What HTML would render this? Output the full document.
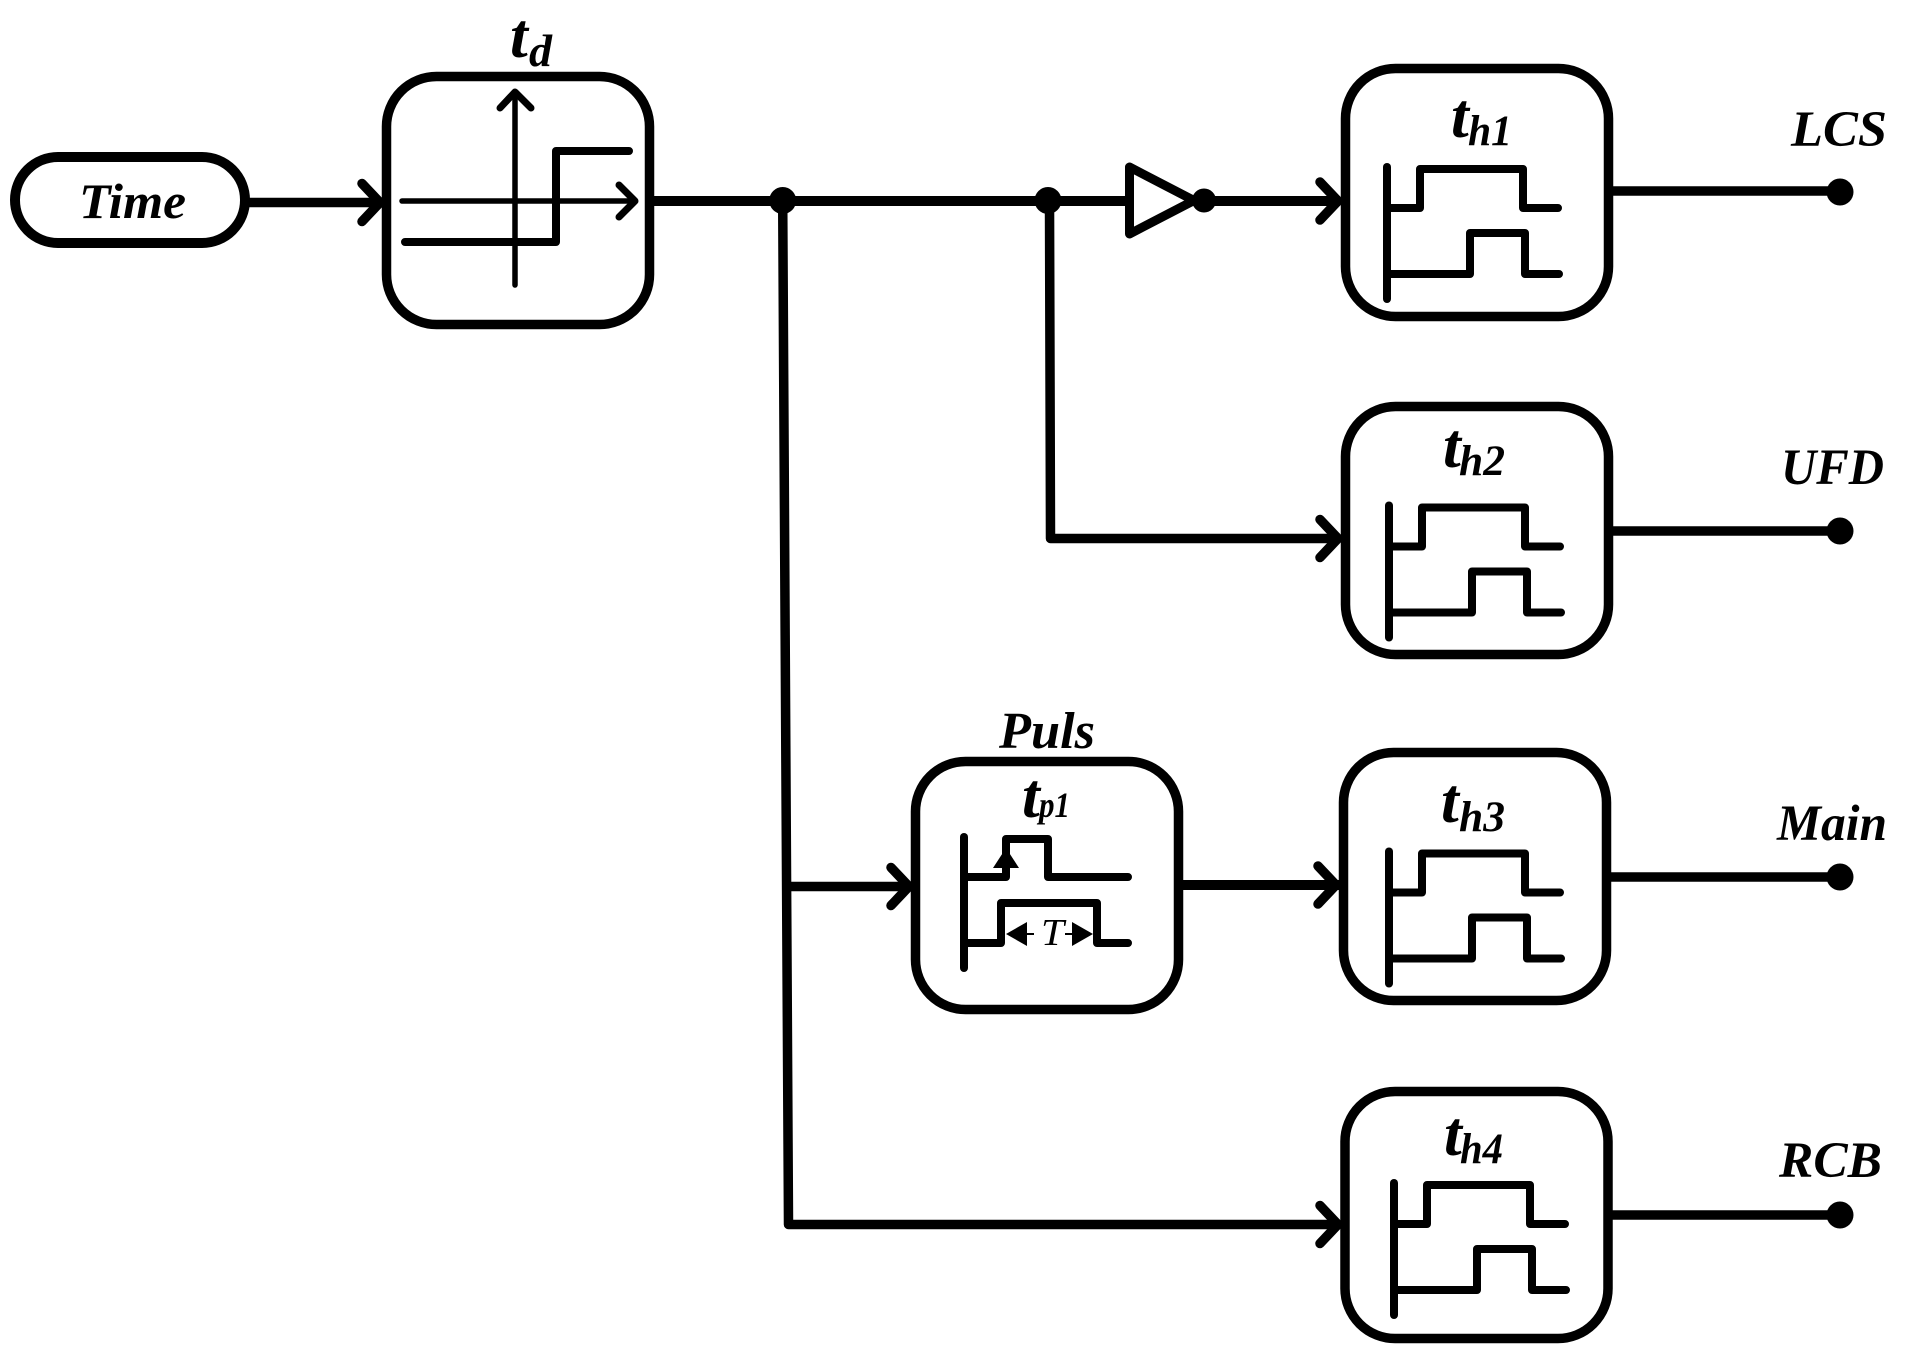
<!DOCTYPE html>
<html><head><meta charset="utf-8"><style>
html,body{margin:0;padding:0;background:#fff}
svg{display:block}
text{font-family:"Liberation Serif",serif;font-style:italic;font-weight:bold;fill:#000}
.l{fill:none;stroke:#000;stroke-width:9.5;stroke-linejoin:round;stroke-linecap:round}
.w{fill:none;stroke:#000;stroke-width:9.5;stroke-linejoin:round;stroke-linecap:butt}
.p{fill:none;stroke:#000;stroke-width:8;stroke-linejoin:round;stroke-linecap:round}
.b{fill:#fff;stroke:#000;stroke-width:9.5}
</style></head><body>
<svg width="1906" height="1355" viewBox="0 0 1906 1355" xmlns="http://www.w3.org/2000/svg">
<defs>
<g id="pulse">
<path class="p" d="M1387 167V299"/>
<path class="p" d="M1387 208H1420V169H1523V208H1558"/>
<path class="p" d="M1387 274H1470V233H1525V274H1559"/>
</g>
</defs>
<rect width="1906" height="1355" fill="#fff"/>

<!-- wires -->
<path class="w" d="M248 202.5H383"/>
<path class="l" d="M362 183.5L380 202.5L362 221.5"/>
<path class="w" style="stroke-width:10" d="M650 201H1130"/>
<path class="w" style="stroke-width:10" d="M1204 201H1340"/>
<path class="l" d="M1320 182L1338 201L1320 220"/>
<path class="w" d="M782.7 201L788.5 1224.5H1340"/>
<path class="l" d="M1320 1205.5L1338 1224.5L1320 1243.5"/>
<path class="w" d="M1049.5 201L1050.5 538.5H1340"/>
<path class="l" d="M1320 519.5L1338 538.5L1320 557.5"/>
<path class="w" d="M786 886.5H912"/>
<path class="l" d="M891 867.5L909 886.5L891 905.5"/>
<path class="w" style="stroke-width:10" d="M1180 885H1339"/>
<path class="l" d="M1318 866L1336 885L1318 904"/>
<circle cx="782.7" cy="200.5" r="13.5"/>
<circle cx="1048" cy="200.5" r="13.5"/>
<path class="l" fill="#fff" style="fill:#fff;stroke-width:9" d="M1129.5 167V234L1194 200.5Z"/>
<circle cx="1204" cy="200.5" r="12"/>

<!-- outputs -->
<path class="w" d="M1608 191H1840M1608 531H1840M1608 877H1840M1608 1215H1840"/>
<circle cx="1840" cy="192" r="13.5"/>
<circle cx="1840" cy="531" r="13.5"/>
<circle cx="1840" cy="877" r="13.5"/>
<circle cx="1840" cy="1215" r="13.5"/>

<!-- Time -->
<rect style="fill:#fff;stroke:#000;stroke-width:10" x="15" y="157" width="230" height="86" rx="43" ry="43"/>
<text x="79" y="218" font-size="50" textLength="107" lengthAdjust="spacingAndGlyphs">Time</text>

<!-- delay -->
<rect class="b" x="386.5" y="76.5" width="263" height="248" rx="50" ry="50"/>
<path class="l" style="stroke-width:5.5" d="M515 93V285M402 201H635"/>
<path class="l" style="stroke-width:7" d="M500 108L515 92L531 108M619 185L635 201L619 217"/>
<path class="p" d="M405 242H556V151H629"/>
<text x="510" y="57" font-size="64">t</text>
<text x="529" y="66" font-size="46">d</text>

<!-- hold boxes -->
<rect class="b" x="1345.5" y="68.5" width="263" height="248" rx="50" ry="50"/>
<rect class="b" x="1345.5" y="406.5" width="263" height="248" rx="50" ry="50"/>
<rect class="b" x="1343.5" y="752.5" width="263" height="248" rx="50" ry="50"/>
<rect class="b" x="1345" y="1091.5" width="263" height="247" rx="50" ry="50"/>
<rect class="b" x="915.5" y="761.5" width="263" height="248" rx="50" ry="50"/>

<use href="#pulse"/>
<use href="#pulse" transform="translate(2 338.5)"/>
<use href="#pulse" transform="translate(2 684.5)"/>
<use href="#pulse" transform="translate(7 1016)"/>

<text x="1451" y="137" font-size="64">t</text>
<text x="1468" y="145" font-size="43" textLength="44" lengthAdjust="spacingAndGlyphs">h1</text>
<text x="1443" y="467" font-size="64">t</text>
<text x="1459" y="475" font-size="43" textLength="46" lengthAdjust="spacingAndGlyphs">h2</text>
<text x="1441" y="822" font-size="64">t</text>
<text x="1459" y="831" font-size="43" textLength="46" lengthAdjust="spacingAndGlyphs">h3</text>
<text x="1444" y="1155" font-size="64">t</text>
<text x="1460" y="1163" font-size="43" textLength="43" lengthAdjust="spacingAndGlyphs">h4</text>

<text x="1791" y="146" font-size="51" textLength="96" lengthAdjust="spacingAndGlyphs">LCS</text>
<text x="1781" y="484" font-size="51" textLength="103" lengthAdjust="spacingAndGlyphs">UFD</text>
<text x="1777" y="840" font-size="51" textLength="110" lengthAdjust="spacingAndGlyphs">Main</text>
<text x="1779" y="1177" font-size="51" textLength="103" lengthAdjust="spacingAndGlyphs">RCB</text>

<!-- pulse block -->
<text x="999" y="748" font-size="52" textLength="96" lengthAdjust="spacingAndGlyphs">Puls</text>
<text x="1022" y="817" font-size="64">t</text>
<text x="1039" y="817" font-size="36" textLength="31" lengthAdjust="spacingAndGlyphs">p1</text>
<path class="p" d="M964 837V968"/>
<path class="p" d="M964 877H1006V839H1048V877H1128"/>
<path class="p" d="M964 943H1001V903H1097V943H1128"/>
<path d="M1006 848L1019 868H993Z" fill="#000"/>
<path d="M1006 934L1027 922V946ZM1093 934L1072 922V946Z" fill="#000"/>
<path d="M1027 934H1034M1065 934H1072" stroke="#000" stroke-width="2"/>
<text x="1041" y="945" font-size="38" style="font-weight:normal" textLength="23" lengthAdjust="spacingAndGlyphs">T</text>
</svg>
</body></html>
